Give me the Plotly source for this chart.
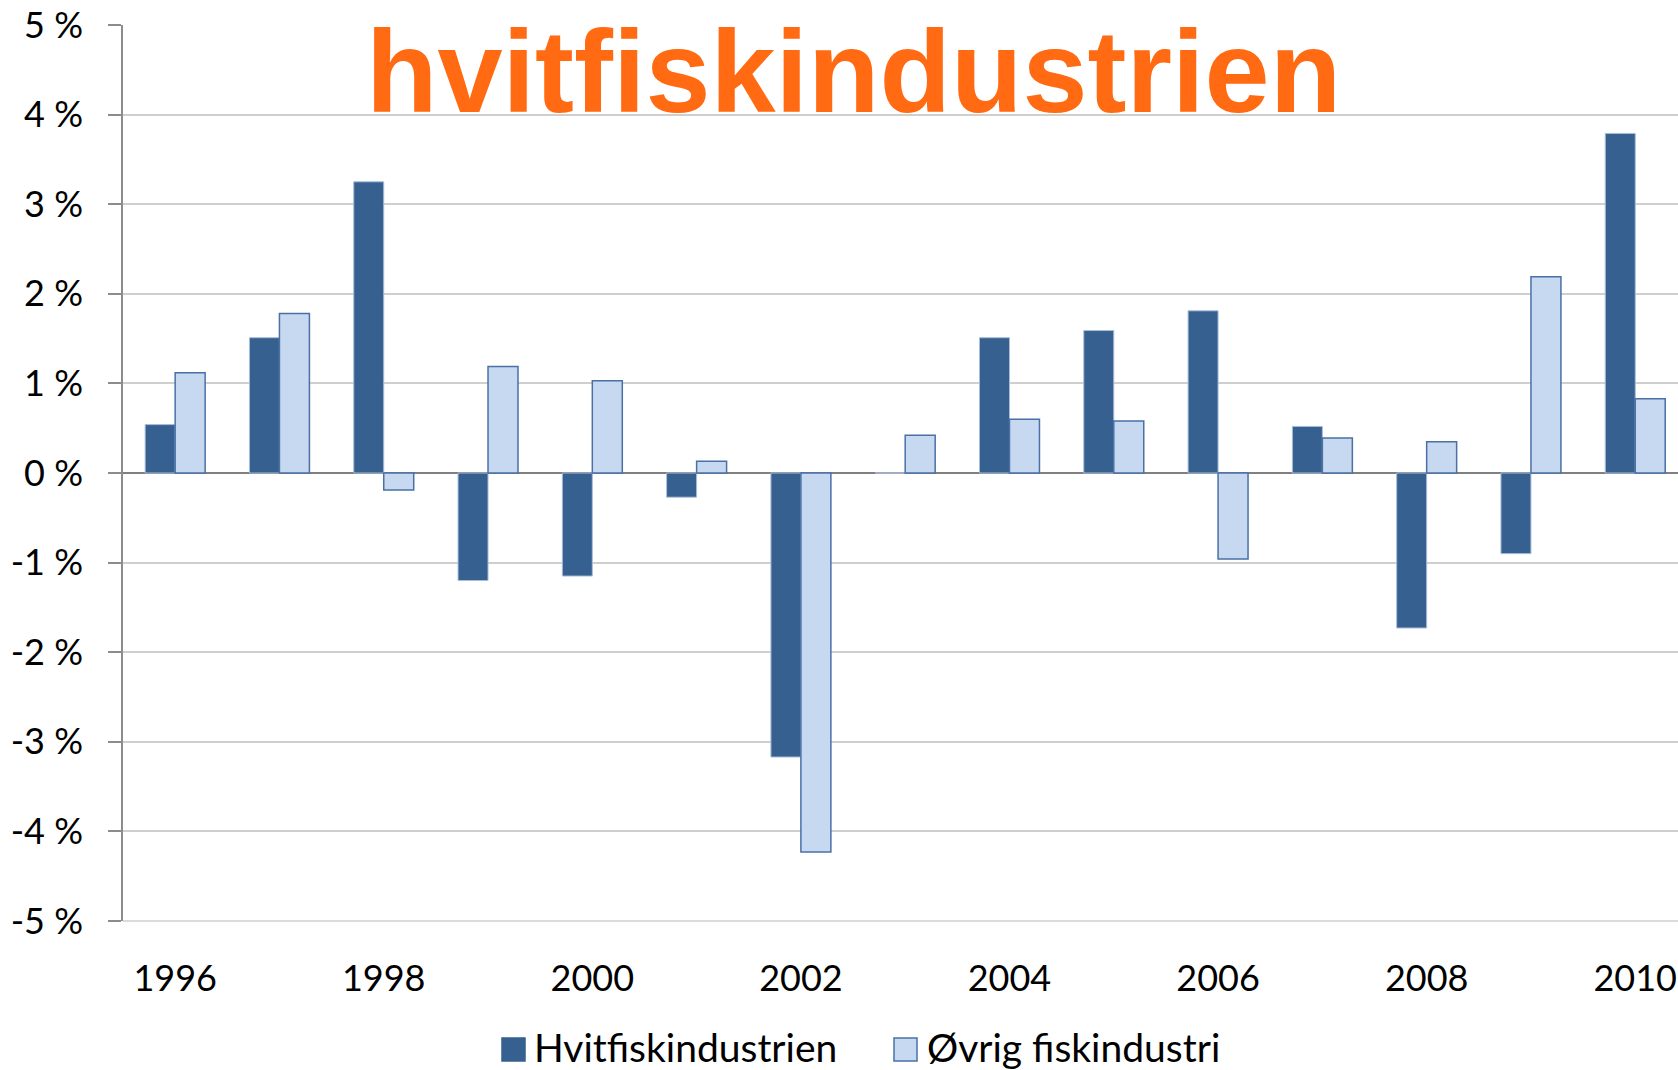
import plotly.graph_objects as go

years = ["1996", "1997", "1998", "1999", "2000", "2001", "2002", "2003",
         "2004", "2005", "2006", "2007", "2008", "2009", "2010"]
hvitfisk = [0.54, 1.51, 3.25, -1.20, -1.15, -0.27, -3.17, 0.0,
            1.51, 1.59, 1.81, 0.52, -1.73, -0.90, 3.79]
ovrig = [1.12, 1.78, -0.19, 1.19, 1.03, 0.13, -4.23, 0.42,
         0.60, 0.58, -0.96, 0.39, 0.35, 2.19, 0.83]
series_names = ["Hvitfiskindustrien", "Øvrig fiskindustri"]
title_text = "hvitfiskindustrien"
y_tickvals = [-5, -4, -3, -2, -1, 0, 1, 2, 3, 4, 5]
y_ticktext = ["-5 %", "-4 %", "-3 %", "-2 %", "-1 %", "0 %", "1 %", "2 %", "3 %", "4 %", "5 %"]
x_tickvals = ["1996", "1998", "2000", "2002", "2004", "2006", "2008", "2010"]

DARK = "#36608F"
DARK_EDGE = "#A9BDD9"
LIGHT = "#C6D9F1"
LIGHT_EDGE = "#4A70A6"
GRID = "#CFCFCF"
TEXT_FONT = "Lato"

W, H = 1678, 1070
ML, MR, MT, MB = 123, 0, 25, 149
PW, PH = W - ML - MR, H - MT - MB


def px_to_paper_x(px):
    return (px - ML) / PW


def px_to_paper_y(py):
    return (H - MB - py) / PH


fig = go.Figure()
fig.add_trace(go.Bar(x=years, y=hvitfisk, name=series_names[0],
                     marker=dict(color=DARK, line=dict(color=DARK_EDGE, width=1)),
                     showlegend=False))
fig.add_trace(go.Bar(x=years, y=ovrig, name=series_names[1],
                     marker=dict(color=LIGHT, line=dict(color=LIGHT_EDGE, width=1.5)),
                     showlegend=False))

# bottom gridline (range edge), paper-referenced so it is not clipped
fig.add_shape(type="line", xref="paper", yref="paper", x0=0, x1=1, y0=0, y1=0,
              line=dict(color=GRID, width=1.5), layer="below")

# Title annotation
fig.add_annotation(text=title_text, xref="paper", yref="paper",
                   x=px_to_paper_x(853), y=px_to_paper_y(72), xanchor="center", yanchor="middle",
                   showarrow=False,
                   font=dict(family="Liberation Sans", size=117, color="#FF6A12", weight="bold"))

# Custom legend
legend_items = [(series_names[0], DARK, DARK_EDGE, 502, 533),
                (series_names[1], LIGHT, LIGHT_EDGE, 894, 926)]
for name, fill, edge, sx, tx in legend_items:
    fig.add_shape(type="rect", xref="paper", yref="paper",
                  x0=px_to_paper_x(sx), x1=px_to_paper_x(sx + 23),
                  y0=px_to_paper_y(1061), y1=px_to_paper_y(1038),
                  fillcolor=fill, line=dict(color=edge if fill == LIGHT else fill, width=1.5))
    fig.add_annotation(text=name, xref="paper", yref="paper",
                       x=px_to_paper_x(tx), y=px_to_paper_y(1047), xanchor="left", yanchor="middle",
                       showarrow=False, borderpad=0,
                       font=dict(family=TEXT_FONT, size=39, color="#000000"))

fig.update_layout(
    width=W, height=H,
    margin=dict(l=ML, r=MR, t=MT, b=MB),
    paper_bgcolor="white", plot_bgcolor="white",
    barmode="group", bargap=0.425, bargroupgap=0,
    showlegend=False,
    font=dict(family=TEXT_FONT, size=36, color="#000000"),
)
fig.update_xaxes(type="category", range=[-0.5, 14.41],
                 tickvals=x_tickvals, ticktext=x_tickvals,
                 showgrid=False, zeroline=False, showline=False, ticks="",
                 ticklabelstandoff=33,
                 tickfont=dict(family=TEXT_FONT, size=36, color="#000000"))
fig.update_yaxes(range=[-5, 5], tickvals=y_tickvals, ticktext=y_ticktext,
                 showgrid=True, gridcolor=GRID, gridwidth=1.5,
                 zeroline=True, zerolinecolor="#808080", zerolinewidth=1.5,
                 showline=True, linecolor="#8C8C8C", linewidth=1.5,
                 ticks="outside", ticklen=13, tickcolor="#8C8C8C", tickwidth=1.5,
                 ticklabelstandoff=18,
                 tickfont=dict(family=TEXT_FONT, size=36, color="#000000"))

fig.write_html("out.html", config={"displayModeBar": False},
               post_script="document.body.style.margin='0';document.body.style.overflow='hidden';")
